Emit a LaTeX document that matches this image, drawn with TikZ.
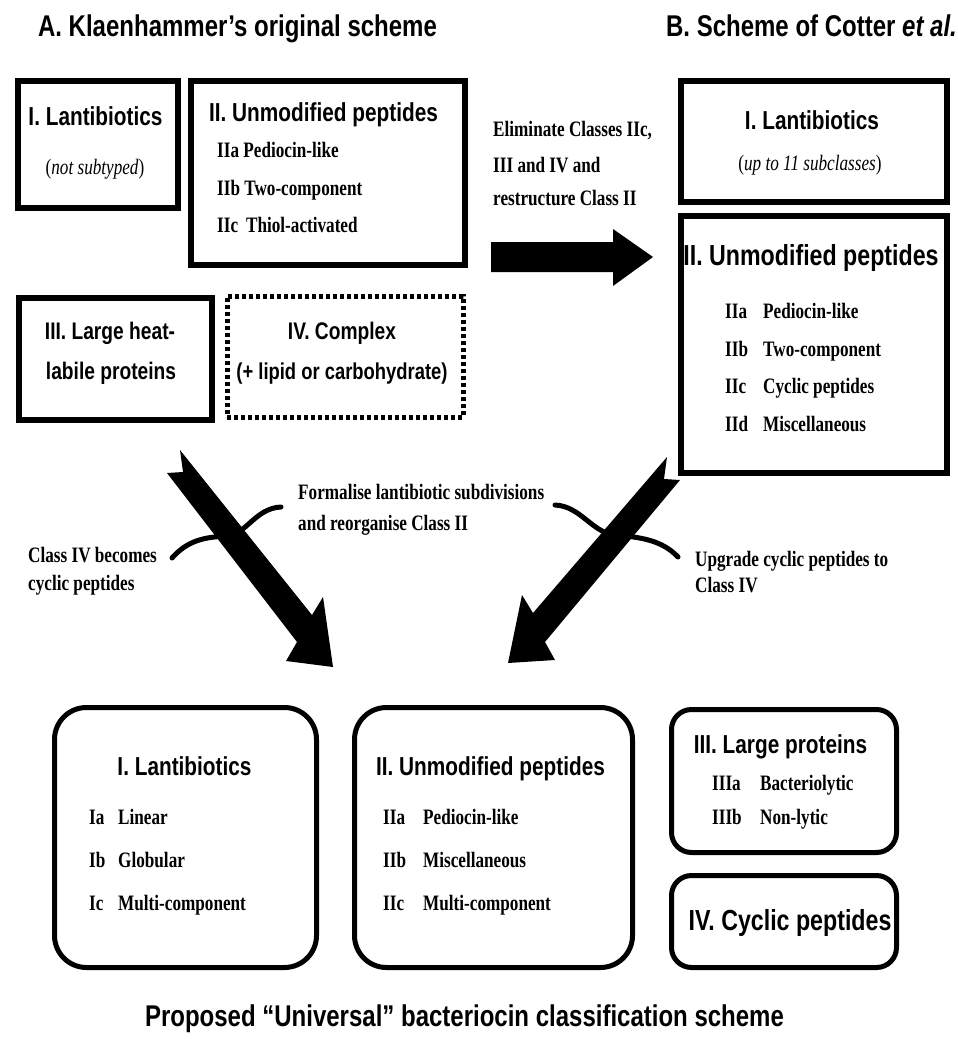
\documentclass[tikz,border=0pt]{standalone}
\usepackage{fontspec}
\setmainfont{Liberation Serif}
\newfontfamily\hsans[FakeStretch=0.8]{Liberation Sans}
\newfontfamily\tser[FakeStretch=0.78]{Liberation Serif}
\begin{document}
\begin{tikzpicture}[x=1pt,y=-1pt,
  box/.style={draw, line width=5.5pt, inner sep=0pt, anchor=north west},
  dotbox/.style={draw, line width=4.5pt, dash pattern=on 4pt off 3pt, inner sep=0pt, anchor=north west},
  rbox/.style={draw, line width=5pt, rounded corners=32pt, inner sep=0pt, anchor=north west},
  sbox/.style={draw, line width=5pt, rounded corners=20pt, inner sep=0pt, anchor=north west},
  ttl/.style={font=\hsans\bfseries\fontsize{30}{34}\selectfont, inner sep=0pt, text height=21.5pt, text depth=0pt},
  hd/.style={font=\hsans\bfseries\fontsize{26}{30}\selectfont, inner sep=0pt, text height=18.6pt, text depth=0pt},
  hdm/.style={font=\hsans\bfseries\fontsize{24}{28}\selectfont, inner sep=0pt, text height=17.2pt, text depth=0pt},
  hdl/.style={font=\hsans\bfseries\fontsize{29}{33}\selectfont, inner sep=0pt, text height=20.8pt, text depth=0pt},
  itm/.style={font=\tser\bfseries\fontsize{22}{26}\selectfont, inner sep=0pt, text height=14.6pt, text depth=0pt, anchor=west},
  note/.style={font=\tser\fontsize{22}{26}\selectfont, inner sep=0pt, text height=14.6pt, text depth=0pt},
  blk/.style={fill=black, draw=none},
  arc/.style={draw=black, line width=5pt, line cap=round}
]
\fill[white] (0,0) rectangle (958,1039);
\useasboundingbox (0,0) rectangle (958,1039);

% titles
\node[ttl] (tA) at (237.5,26) {A. Klaenhammer’s original scheme};
\node[ttl] (tB) at (811.5,26) {B. Scheme of Cotter \textit{et al.}};
\node[ttl] (tC) at (464.5,1016) {Proposed “Universal” bacteriocin classification scheme};

% ---- Scheme A ----
\node[box, minimum width=160pt, minimum height=127pt] (aI) at (15,78) {};
\node[hd] (aIh) at (95.5,116) {I. Lantibiotics};
\node[note] (aIn) at (95,167) {(\textit{not subtyped})};

\node[box, minimum width=274pt, minimum height=184pt] (aII) at (188,78) {};
\node[hd] (aIIh) at (323.5,112) {II. Unmodified peptides};
\node[itm] (aIIa) at (217,150) {IIa Pediocin-like};
\node[itm] (aIIb) at (217,188) {IIb Two-component};
\node[itm] (aIIc) at (217,225) {IIc\, Thiol-activated};

\node[box, minimum width=193pt, minimum height=122pt] (aIII) at (16,295) {};
\node[hdm] (aIIIh1) at (110,331) {III. Large heat-};
\node[hdm] (aIIIh2) at (111,371) {labile proteins};

\node[dotbox, minimum width=236pt, minimum height=121pt] (aIV) at (225,294) {};
\node[hdm] (aIVh1) at (342,331) {IV. Complex};
\node[hdm, font=\hsans\bfseries\fontsize{23}{27}\selectfont] (aIVh2) at (342,371) {(+ lipid or carbohydrate)};

% ---- Scheme B ----
\node[box, minimum width=266pt, minimum height=121pt] (bI) at (678,78) {};
\node[hd] (bIh) at (812,120) {I. Lantibiotics};
\node[note] (bIn) at (810,163) {(\textit{up to 11 subclasses})};

\node[box, minimum width=266pt, minimum height=257pt] (bII) at (678,213) {};
\node[hdl] (bIIh) at (811,255) {II. Unmodified peptides};
\node[itm] (bIIal) at (725,311) {IIa};
\node[itm] (bIIa) at (763,311) {Pediocin-like};
\node[itm] (bIIbl) at (725,349) {IIb};
\node[itm] (bIIb) at (763,349) {Two-component};
\node[itm] (bIIcl) at (725,386) {IIc};
\node[itm] (bIIc) at (763,386) {Cyclic peptides};
\node[itm] (bIIdl) at (725,424) {IId};
\node[itm] (bIId) at (763,424) {Miscellaneous};

% A -> B arrow and label
\node[itm] (e1) at (493,129) {Eliminate Classes IIc,};
\node[itm] (e2) at (493,165) {III and IV and};
\node[itm] (e3) at (493,198) {restructure Class II};
\fill[blk] (491,242) -- (613,242) -- (613,229) -- (653,257) -- (613,286) -- (613,272) -- (491,272) -- cycle;

% ---- diagonal arrows ----
\node[itm] (f1) at (298,492) {Formalise lantibiotic subdivisions};
\node[itm] (f2) at (298,523) {and reorganise Class II};
\node[itm] (c1) at (28,555) {Class IV becomes};
\node[itm] (c2) at (28,583) {cyclic peptides};
\node[itm] (u1) at (695,559) {Upgrade cyclic peptides to};
\node[itm] (u2) at (695,585) {Class IV};

\draw[arc] (172,558) .. controls (188,540) and (205,537) .. (228,536)
                     .. controls (246,534) and (256,508) .. (281,507);
\draw[arc] (555,505) .. controls (580,506) and (592,532) .. (614,535)
                     .. controls (640,537) and (662,540) .. (678,557);

\fill[blk] (180,450) -- (312,615) -- (323,597) -- (333,667) -- (286,661)
           -- (297,642) -- (167,473) -- (183,472) -- cycle;
\fill[blk] (667,457) -- (533,613) -- (522,595) -- (508,663) -- (555,660)
           -- (545,642) -- (680,480) -- (664,479) -- cycle;

% ---- Proposed scheme ----
\node[rbox, minimum width=262pt, minimum height=260pt] (cI) at (52,705) {};
\node[hd] (cIh) at (184.5,766) {I. Lantibiotics};
\node[itm] (cIal) at (89,817) {Ia};
\node[itm] (cIa) at (118,817) {Linear};
\node[itm] (cIbl) at (89,860) {Ib};
\node[itm] (cIb) at (118,860) {Globular};
\node[itm] (cIcl) at (89,903) {Ic};
\node[itm] (cIc) at (118,903) {Multi-component};

\node[rbox, minimum width=278pt, minimum height=260pt] (cII) at (352,705) {};
\node[hd] (cIIh) at (490.5,766) {II. Unmodified peptides};
\node[itm] (cIIal) at (383,817) {IIa};
\node[itm] (cIIa) at (423,817) {Pediocin-like};
\node[itm] (cIIbl) at (383,860) {IIb};
\node[itm] (cIIb) at (423,860) {Miscellaneous};
\node[itm] (cIIcl) at (383,903) {IIc};
\node[itm] (cIIc) at (423,903) {Multi-component};

\node[sbox, minimum width=225pt, minimum height=143pt] (cIII) at (669,707) {};
\node[hd] (cIIIh) at (780.5,744) {III. Large proteins};
\node[itm] (cIIIal) at (712,783.5) {IIIa};
\node[itm] (cIIIa) at (760,783.5) {Bacteriolytic};
\node[itm] (cIIIbl) at (712,817) {IIIb};
\node[itm] (cIIIb) at (760,817) {Non-lytic};

\node[sbox, minimum width=225pt, minimum height=92pt] (cIV) at (669,873) {};
\node[hdl] (cIVh) at (790,920) {IV. Cyclic peptides};
\end{tikzpicture}
\end{document}
